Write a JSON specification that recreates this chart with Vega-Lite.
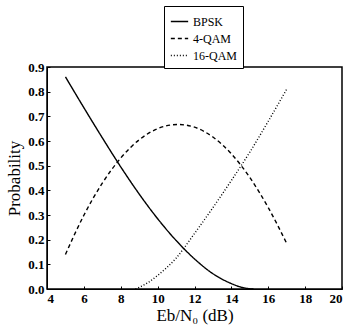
{
  "$schema": "https://vega.github.io/schema/vega-lite/v6.json",
  "width": 295,
  "height": 222,
  "padding": {"left": 5, "top": 5, "right": 5, "bottom": 5},
  "background": "white",
  "config": {
    "font": "Liberation Serif",
    "view": {"stroke": "black", "strokeWidth": 1.5},
    "axis": {"labelFont": "Liberation Serif", "titleFont": "Liberation Serif", "labelColor": "black", "titleColor": "black", "labelFontSize": 13, "labelFontWeight": "bold", "titleFontSize": 17, "titleFontWeight": "normal", "grid": false, "domainColor": "black", "tickColor": "black", "tickSize": -3, "labelPadding": 6}
  },
  "data": {"values": [
    {"snr": 5, "p": 0.86, "scheme": "BPSK"},
    {"snr": 6, "p": 0.735, "scheme": "BPSK"},
    {"snr": 7, "p": 0.613, "scheme": "BPSK"},
    {"snr": 8, "p": 0.495, "scheme": "BPSK"},
    {"snr": 9, "p": 0.385, "scheme": "BPSK"},
    {"snr": 10, "p": 0.285, "scheme": "BPSK"},
    {"snr": 11, "p": 0.197, "scheme": "BPSK"},
    {"snr": 12, "p": 0.122, "scheme": "BPSK"},
    {"snr": 13, "p": 0.062, "scheme": "BPSK"},
    {"snr": 14, "p": 0.022, "scheme": "BPSK"},
    {"snr": 14.5, "p": 0.008, "scheme": "BPSK"},
    {"snr": 15, "p": 0.001, "scheme": "BPSK"},
    {"snr": 15.2, "p": 0.0, "scheme": "BPSK"},
    {"snr": 5, "p": 0.14, "scheme": "4-QAM"},
    {"snr": 6, "p": 0.299, "scheme": "4-QAM"},
    {"snr": 7, "p": 0.429, "scheme": "4-QAM"},
    {"snr": 8, "p": 0.531, "scheme": "4-QAM"},
    {"snr": 9, "p": 0.605, "scheme": "4-QAM"},
    {"snr": 10, "p": 0.65, "scheme": "4-QAM"},
    {"snr": 11.1, "p": 0.667, "scheme": "4-QAM"},
    {"snr": 12, "p": 0.656, "scheme": "4-QAM"},
    {"snr": 13, "p": 0.616, "scheme": "4-QAM"},
    {"snr": 14, "p": 0.548, "scheme": "4-QAM"},
    {"snr": 15, "p": 0.452, "scheme": "4-QAM"},
    {"snr": 16, "p": 0.33, "scheme": "4-QAM"},
    {"snr": 17, "p": 0.185, "scheme": "4-QAM"},
    {"snr": 8.8, "p": 0.0, "scheme": "16-QAM"},
    {"snr": 9.5, "p": 0.027, "scheme": "16-QAM"},
    {"snr": 10, "p": 0.055, "scheme": "16-QAM"},
    {"snr": 11, "p": 0.125, "scheme": "16-QAM"},
    {"snr": 12, "p": 0.225, "scheme": "16-QAM"},
    {"snr": 13, "p": 0.33, "scheme": "16-QAM"},
    {"snr": 14, "p": 0.44, "scheme": "16-QAM"},
    {"snr": 15, "p": 0.555, "scheme": "16-QAM"},
    {"snr": 16, "p": 0.68, "scheme": "16-QAM"},
    {"snr": 17, "p": 0.81, "scheme": "16-QAM"}
  ]},
  "mark": {"type": "line", "color": "black", "strokeWidth": 1.4, "interpolate": "monotone"},
  "encoding": {
    "x": {"field": "snr", "type": "quantitative", "scale": {"domain": [4, 20], "nice": false}, "axis": {"values": [4, 6, 8, 10, 12, 14, 16, 18, 20], "title": "Eb/N₀ (dB)", "titlePadding": 2}},
    "y": {"field": "p", "type": "quantitative", "scale": {"domain": [0, 0.9], "nice": false}, "axis": {"values": [0, 0.1, 0.2, 0.3, 0.4, 0.5, 0.6, 0.7, 0.8, 0.9], "format": ".1f", "title": "Probability", "titlePadding": 4}},
    "strokeDash": {
      "field": "scheme", "type": "nominal",
      "scale": {"domain": ["BPSK", "4-QAM", "16-QAM"], "range": [[1, 0], [4, 3], [1, 2]]},
      "legend": {"title": null, "orient": "none", "legendX": 117, "legendY": -61, "strokeColor": "black", "fillColor": "white", "padding": 6, "symbolType": "stroke", "symbolSize": 300, "symbolStrokeColor": "black", "symbolStrokeWidth": 1.2, "labelFont": "Liberation Serif", "labelFontSize": 12, "labelColor": "black", "rowPadding": 1}
    },
    "strokeWidth": {"field": "scheme", "type": "nominal", "scale": {"domain": ["BPSK", "4-QAM", "16-QAM"], "range": [1.6, 1.6, 1]}, "legend": null}
  }
}
